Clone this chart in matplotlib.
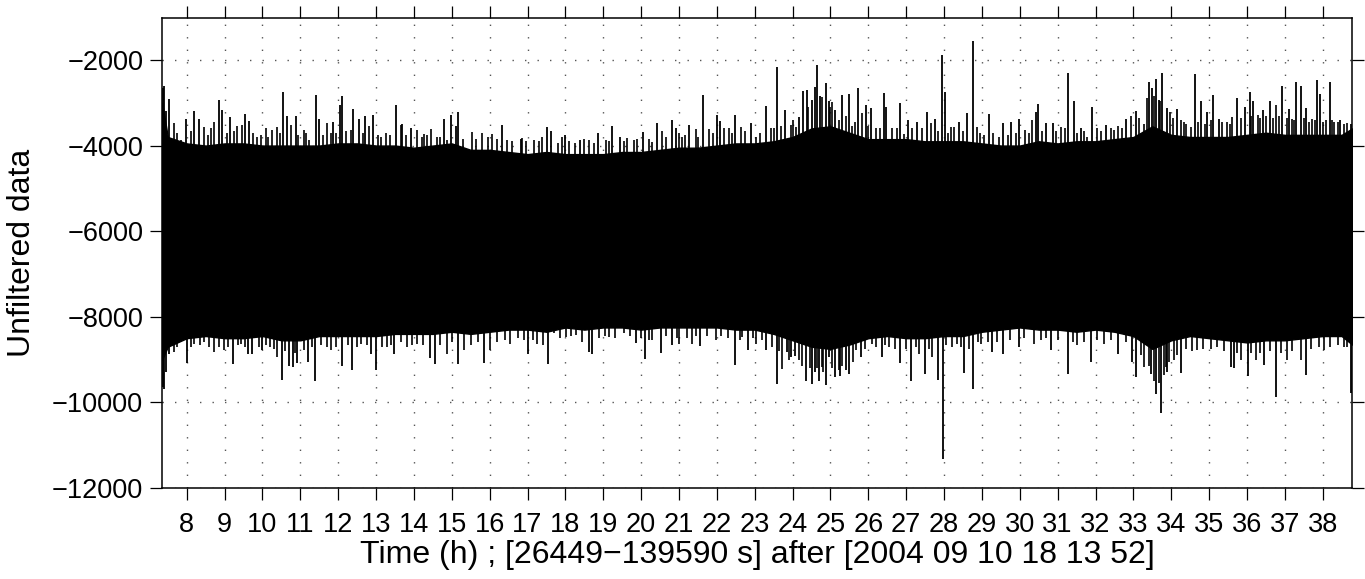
import matplotlib
matplotlib.use("Agg")
import matplotlib.pyplot as plt

plt.rcParams["font.family"] = ["Liberation Sans", "DejaVu Sans"]

# time span of the record (hours after reference time)
t_start = 26449 / 3600.0
t_end = 139590 / 3600.0

# body of the trace: solid top / bottom of the black band, read every 0.5 h
env_hours = [7.35, 7.5, 8.0, 8.5, 9.0, 9.5, 10.0, 10.5, 11.0, 11.5, 12.0, 12.5, 13.0,
             13.5, 14.0, 14.5, 15.0, 15.5, 16.0, 16.5, 17.0, 17.5, 18.0, 18.5, 19.0,
             19.5, 20.0, 20.5, 21.0, 21.5, 22.0, 22.5, 23.0, 23.5, 24.0, 24.5, 25.0,
             25.5, 26.0, 26.5, 27.0, 27.5, 28.0, 28.5, 29.0, 29.5, 30.0, 30.5, 31.0,
             31.5, 32.0, 32.5, 33.0, 33.5, 34.0, 34.5, 35.0, 35.5, 36.0, 36.5, 37.0,
             37.5, 38.0, 38.5, 38.78]
env_upper = [-3000, -3800, -3950, -4000, -3950, -3950, -4000, -4000, -4000, -4000, -3950, -3950, -4000,
             -4000, -4050, -4000, -3950, -4100, -4100, -4150, -4200, -4150, -4200, -4200, -4200,
             -4150, -4150, -4100, -4050, -4050, -4000, -3950, -3950, -3900, -3800, -3600, -3550,
             -3700, -3850, -3850, -3850, -3900, -3900, -3900, -3950, -4000, -4000, -3900, -3950,
             -3900, -3900, -3850, -3800, -3550, -3750, -3800, -3800, -3800, -3750, -3700, -3750,
             -3750, -3750, -3750, -3600]
env_lower = [-9000, -8700, -8500, -8450, -8500, -8500, -8450, -8550, -8550, -8450, -8450, -8450, -8450,
             -8400, -8400, -8400, -8350, -8400, -8350, -8300, -8300, -8350, -8250, -8300, -8250,
             -8250, -8300, -8250, -8250, -8250, -8250, -8300, -8300, -8400, -8550, -8700, -8750,
             -8650, -8500, -8450, -8500, -8500, -8450, -8450, -8350, -8300, -8250, -8300, -8300,
             -8350, -8300, -8350, -8450, -8750, -8550, -8450, -8500, -8550, -8600, -8550, -8550,
             -8500, -8450, -8450, -8650]

# large upward peaks (hour, value)
up_hours = [7.36, 7.40, 7.45, 7.53, 7.99, 8.19, 8.32, 8.85, 8.92, 9.13, 9.55, 9.64, 10.55,
            10.64, 10.88, 11.42, 11.49, 11.87, 12.04, 12.09, 12.40, 12.55, 12.72, 12.92,
            13.52, 13.69, 13.91, 14.79, 14.99, 15.10, 15.17, 16.33, 16.82, 17.52, 17.61,
            17.99, 18.38, 18.87, 19.24, 19.44, 20.05, 20.43, 20.81, 20.91, 21.26, 21.64,
            22.01, 22.08, 22.47, 22.89, 23.31, 23.60, 23.80, 24.17, 24.28, 24.37, 24.50,
            24.58, 24.65, 24.72, 24.87, 24.96, 25.12, 25.31, 25.49, 25.74, 25.93, 26.08,
            26.41, 26.47, 26.85, 27.06, 27.28, 27.56, 27.75, 27.95, 28.03, 28.39, 28.60,
            28.77, 29.19, 29.57, 29.78, 29.98, 30.42, 30.48, 30.70, 30.89, 31.28, 31.43,
            31.61, 31.90, 32.27, 32.80, 33.06, 33.40, 33.50, 33.60, 33.68, 33.76, 33.88,
            34.14, 34.64, 34.78, 34.95, 35.11, 35.26, 35.74, 35.96, 36.07, 36.17, 36.43,
            36.61, 36.93, 37.11, 37.30, 37.44, 37.57, 37.86, 37.94, 38.18, 38.47, 38.74]
up_values = [-2650, -2620, -3200, -2920, -3370, -3190, -3370, -2940, -3170, -3340, -3260, -3420, -2760,
             -3310, -3310, -2830, -3370, -3440, -3050, -2840, -3140, -3370, -3310, -3290,
             -3060, -3500, -3580, -3390, -3280, -3540, -3220, -3530, -3850, -3570, -3650,
             -3760, -3860, -3700, -3540, -3790, -3690, -3480, -3400, -3600, -3530, -2820,
             -3280, -3430, -3290, -3480, -3080, -2160, -3170, -3340, -2720, -2700, -2940,
             -2640, -2120, -2840, -2550, -2950, -3170, -2820, -2800, -2660, -3050, -3130,
             -2780, -3090, -3010, -3400, -3440, -3210, -3390, -1880, -2740, -3440, -3250,
             -1550, -3260, -3470, -3460, -3370, -3210, -3040, -3480, -3480, -2310, -2960,
             -3600, -3110, -3530, -3370, -3190, -2520, -2660, -2450, -2940, -2310, -3130,
             -3150, -2330, -2960, -3210, -2820, -3370, -2900, -3090, -2760, -2950, -3170,
             -2950, -2610, -3150, -2520, -2610, -3130, -2470, -2800, -2520, -3400, -3500]

# smaller upward peaks along the top fringe
fr_up_hours = [7.66, 7.75, 7.84, 8.10, 8.45, 8.55, 8.63, 8.72, 9.05, 9.25, 9.33, 9.47, 9.75,
               9.86, 9.95, 10.08, 10.15, 10.26, 10.39, 10.45, 10.74, 10.95, 11.09, 11.15, 11.23,
               11.60, 11.71, 11.80, 11.93, 12.20, 12.33, 12.65, 12.81, 13.05, 13.12, 13.25,
               13.38, 13.65, 13.80, 14.09, 14.20, 14.26, 14.35, 14.44, 14.62, 14.70, 14.88,
               15.30, 15.54, 15.65, 15.80, 15.95, 16.07, 16.20, 16.46, 16.60, 16.86, 16.95,
               17.17, 17.30, 17.39, 17.80, 17.92, 18.10, 18.25, 18.50, 18.62, 18.75, 19.06,
               19.15, 19.55, 19.64, 19.81, 19.90, 20.20, 20.30, 20.56, 20.65, 21.00, 21.09,
               21.15, 21.44, 21.50, 21.79, 21.90, 22.19, 22.32, 22.40, 22.63, 22.75, 23.03,
               23.15, 23.42, 23.50, 23.70, 23.95, 24.00, 24.08, 24.42, 24.79, 25.00, 25.05,
               25.23, 25.40, 25.58, 25.65, 25.84, 26.00, 26.20, 26.30, 26.63, 26.75, 26.94,
               27.15, 27.43, 27.65, 27.85, 28.10, 28.18, 28.26, 28.50, 28.88, 28.95, 29.05,
               29.30, 29.45, 29.70, 29.90, 30.15, 30.25, 30.33, 30.60, 30.95, 31.08, 31.20,
               31.50, 31.70, 31.78, 32.05, 32.15, 32.40, 32.49, 32.60, 32.71, 32.95, 33.15,
               33.28, 33.35, 33.55, 33.70, 33.98, 34.05, 34.25, 34.34, 34.40, 34.51, 34.70,
               34.90, 35.05, 35.35, 35.48, 35.55, 35.61, 35.85, 36.10, 36.29, 36.35, 36.50,
               36.70, 36.76, 36.85, 37.05, 37.20, 37.25, 37.50, 37.65, 37.73, 37.80, 38.00,
               38.08, 38.25, 38.30, 38.40, 38.55, 38.65]
fr_up_values = [-3480, -3700, -3870, -3650, -3560, -3750, -3600, -3440, -3700, -3650, -3540, -3520, -3700,
                -3790, -3750, -3600, -3800, -3640, -3560, -3700, -3520, -3750, -3640, -3700, -3870,
                -3750, -3480, -3700, -3700, -3650, -3640, -3700, -3540, -3750, -3790, -3700,
                -3760, -3520, -3750, -3640, -3800, -3730, -3750, -3620, -3790, -3800, -3870,
                -3850, -3680, -3850, -3700, -3800, -3720, -3850, -3870, -3900, -3830, -3900,
                -3870, -3900, -3790, -3950, -3790, -3900, -3950, -3850, -3860, -3950, -3870,
                -3900, -3900, -3830, -3870, -3850, -3850, -3910, -3650, -3800, -3700, -3790,
                -3750, -3620, -3800, -3620, -3700, -3600, -3580, -3700, -3560, -3650, -3790,
                -3700, -3580, -3600, -3550, -3520, -3400, -3560, -3100, -2860, -3100, -2980,
                -3400, -3300, -3540, -3450, -3250, -3550, -3600, -3600, -3580, -3600, -3720,
                -3600, -3600, -3480, -3650, -3700, -3560, -3560, -3650, -3560, -3700, -3760,
                -3700, -3790, -3750, -3700, -3640, -3700, -3400, -3650, -3650, -3560, -3600,
                -3700, -3650, -3790, -3580, -3650, -3600, -3640, -3550, -3580, -3310, -3350,
                -3500, -2900, -2850, -2950, -3210, -3350, -3400, -3440, -3500, -3560, -3450,
                -3500, -3400, -3450, -3440, -3500, -3330, -3350, -3300, -3290, -3350, -3300,
                -3350, -3050, -3300, -3350, -3370, -3400, -3350, -3450, -3390, -3400, -3450,
                -3400, -3400, -3440, -3450, -3500, -3480]

# large downward peaks (hour, value)
dn_hours = [7.37, 7.40, 7.44, 7.53, 8.01, 9.23, 9.63, 9.73, 10.00, 10.52, 10.70, 10.80,
            10.92, 11.20, 11.40, 12.11, 12.37, 12.86, 13.01, 13.47, 14.42, 14.55, 15.17,
            15.85, 17.01, 17.55, 18.62, 18.71, 19.86, 20.09, 20.52, 20.81, 21.55, 22.48,
            22.83, 23.31, 23.60, 23.84, 23.95, 24.06, 24.35, 24.50, 24.59, 24.70, 24.89,
            24.96, 25.12, 25.25, 25.40, 25.49, 25.80, 26.35, 26.85, 27.14, 27.49, 27.85,
            27.97, 28.54, 28.76, 29.27, 29.57, 29.98, 30.83, 31.28, 31.89, 32.60, 32.97,
            33.08, 33.46, 33.61, 33.72, 33.89, 34.25, 35.57, 35.67, 36.03, 36.45, 36.78,
            37.55, 38.76]
dn_values = [-9650, -9680, -9290, -8860, -9080, -9100, -8860, -8860, -8780, -9470, -9160, -9170,
             -9090, -9060, -9500, -9140, -9250, -8860, -9240, -8860, -8960, -9100, -9100,
             -9080, -8860, -9100, -8820, -8880, -8610, -8980, -8840, -8650, -8690, -9120,
             -8780, -8770, -9560, -8820, -8940, -8920, -9510, -9560, -9290, -9490, -9590,
             -8940, -9410, -9390, -9250, -9340, -8940, -8940, -9090, -9510, -9330, -9470,
             -11320, -9310, -9680, -8820, -8860, -8700, -8780, -9330, -9060, -8880, -9060,
             -9410, -9330, -9800, -10250, -9290, -9310, -9170, -9190, -9390, -9130, -9880,
             -9350, -9780]

# smaller downward peaks along the bottom fringe
fr_dn_hours = [7.66, 7.75, 7.93, 8.10, 8.19, 8.35, 8.45, 8.60, 8.72, 8.85, 8.98, 9.10, 9.35,
               9.42, 9.55, 9.90, 10.10, 10.21, 10.30, 10.39, 10.60, 10.85, 11.09, 11.30, 11.55,
               11.70, 11.80, 11.95, 12.25, 12.50, 12.59, 12.75, 13.15, 13.30, 13.40, 13.65,
               13.82, 13.95, 14.09, 14.25, 14.70, 14.88, 15.00, 15.32, 15.50, 15.70, 16.02,
               16.20, 16.40, 16.55, 16.75, 16.90, 17.15, 17.26, 17.40, 17.70, 17.85, 18.01,
               18.15, 18.27, 18.45, 18.90, 19.05, 19.15, 19.30, 19.55, 19.70, 20.00, 20.20,
               20.30, 20.65, 20.95, 21.00, 21.20, 21.35, 21.45, 21.75, 21.97, 22.10, 22.30,
               22.60, 22.67, 22.95, 23.03, 23.20, 23.45, 23.65, 23.73, 23.90, 24.17, 24.25,
               24.45, 24.65, 24.79, 24.80, 25.05, 25.23, 25.30, 25.60, 25.67, 25.90, 26.11,
               26.20, 26.45, 26.55, 26.70, 27.00, 27.25, 27.34, 27.60, 27.69, 28.05, 28.20,
               28.35, 28.45, 28.65, 28.90, 28.97, 29.15, 29.40, 29.75, 30.10, 30.37, 30.55,
               30.70, 31.00, 31.40, 31.52, 31.70, 32.05, 32.22, 32.40, 32.80, 33.20, 33.28,
               33.40, 33.54, 33.68, 33.80, 33.85, 33.95, 34.07, 34.15, 34.40, 34.55, 34.69,
               34.85, 35.05, 35.22, 35.40, 35.75, 35.83, 36.10, 36.23, 36.35, 36.60, 36.90,
               37.06, 37.20, 37.42, 37.70, 37.90, 38.03, 38.20, 38.40, 38.56, 38.65]
fr_dn_values = [-8820, -8700, -8470, -8700, -8630, -8650, -8590, -8700, -8820, -8700, -8780, -8700, -8650,
                -8630, -8700, -8700, -8650, -8700, -8750, -8940, -8800, -8850, -8780, -8700, -8650,
                -8700, -8780, -8700, -8650, -8700, -8630, -8650, -8700, -8700, -8650, -8600,
                -8700, -8650, -8630, -8650, -8650, -8860, -8600, -8780, -8650, -8600, -8780,
                -8600, -8550, -8630, -8500, -8550, -8550, -8630, -8650, -8390, -8500, -8470,
                -8450, -8430, -8600, -8500, -8450, -8470, -8500, -8390, -8450, -8500, -8550,
                -8550, -8450, -8500, -8630, -8500, -8630, -8450, -8450, -8550, -8450, -8500,
                -8550, -8470, -8500, -8630, -8550, -8700, -8800, -9210, -9000, -9020, -9150,
                -9200, -9200, -9170, -9300, -9200, -9250, -9150, -9050, -8780, -8750, -8630,
                -8700, -8650, -8700, -8750, -8750, -8700, -8860, -8750, -8940, -8650, -8700,
                -8630, -8700, -8750, -8600, -8630, -8600, -8600, -8550, -8500, -8630, -8550,
                -8500, -8550, -8600, -8670, -8600, -8550, -8630, -8550, -8600, -8900, -9170,
                -9150, -9490, -9550, -9350, -9170, -9050, -9020, -8900, -8750, -8800, -8780,
                -8750, -8750, -8700, -8800, -8850, -9020, -8850, -9020, -8850, -8800, -8850,
                -9020, -8800, -9020, -8750, -8700, -8780, -8700, -8650, -8700, -8700]

x_ticks = list(range(8, 39))
y_ticks = [-12000, -10000, -8000, -6000, -4000, -2000]

fig = plt.figure(figsize=(13.65, 5.79), dpi=100)
ax = fig.add_axes([0.1187, 0.1572, 0.8718, 0.8117])

ax.fill_between(env_hours, env_lower, env_upper, color="black", linewidth=1.0, zorder=3)
ax.vlines(fr_up_hours, -6000, fr_up_values, color="black", linewidth=1.2, zorder=3)
ax.vlines(fr_dn_hours, -6000, fr_dn_values, color="black", linewidth=1.2, zorder=3)
ax.vlines(up_hours, -6000, up_values, color="black", linewidth=1.3, zorder=3)
ax.vlines(dn_hours, -6000, dn_values, color="black", linewidth=1.3, zorder=3)

ax.set_xlim(t_start, t_end)
ax.set_ylim(-12000, -1020)
ax.set_xticks(x_ticks)
ax.set_yticks(y_ticks)

ax.grid(True, color="#555555", linestyle=(0, (1, 8)), linewidth=1.0, zorder=1)
ax.set_axisbelow(True)

ax.tick_params(axis="both", direction="out", length=8.5, width=0.9, labelsize=19.5,
               top=True, right=True, labeltop=False, labelright=False)
ax.tick_params(axis="x", pad=9)
ax.tick_params(axis="y", pad=5)
for s in ax.spines.values():
    s.set_linewidth(1.1)

ax.set_xlabel("Time (h) ; [26449\u2212139590 s] after [2004 09 10 18 13 52]", fontsize=23, labelpad=1)
ax.set_ylabel("Unfiltered data", fontsize=23, labelpad=11)

fig.savefig("out.png", dpi=100)
